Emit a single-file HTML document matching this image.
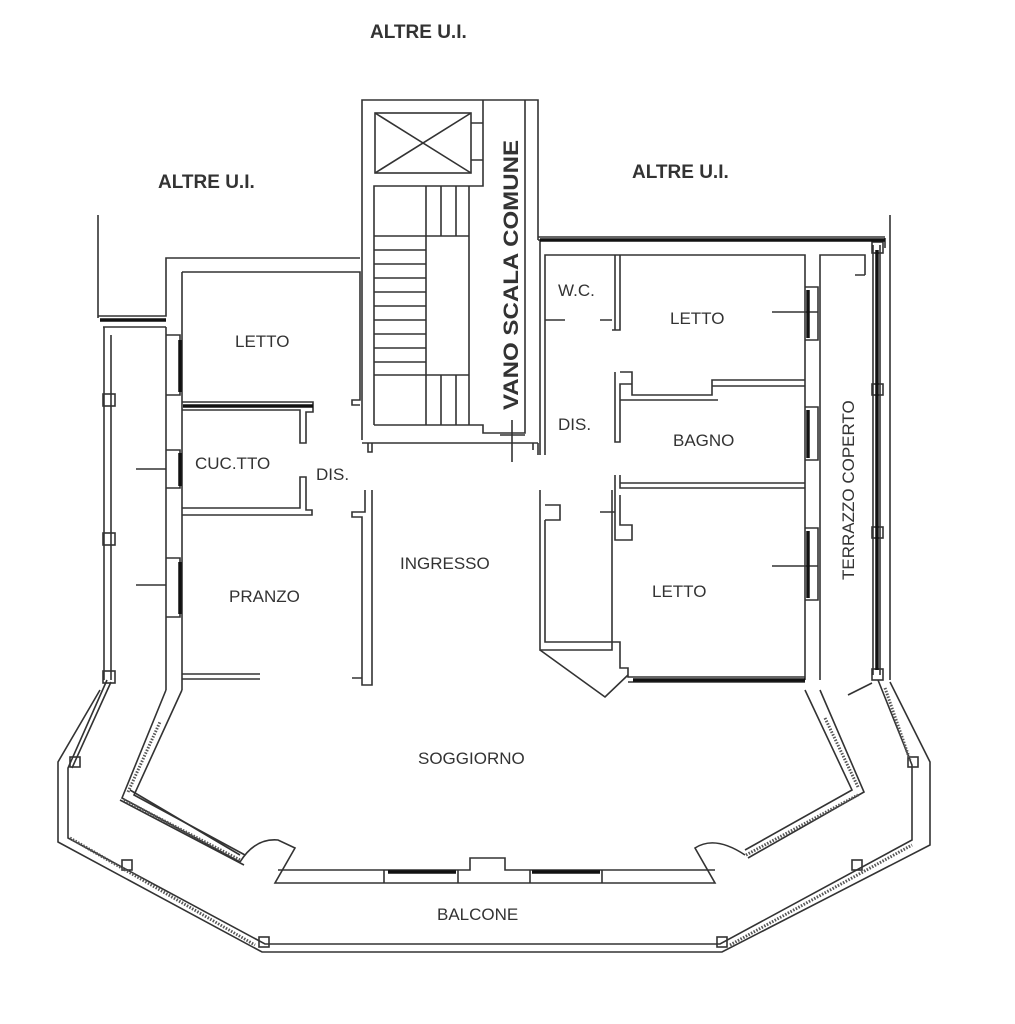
<!DOCTYPE html>
<html><head><style>
html,body{margin:0;padding:0;background:#fff;}
svg{display:block}
text{font-family:"Liberation Sans",sans-serif;fill:#333;}
</style></head><body>
<svg width="1015" height="1024" viewBox="0 0 1015 1024" xmlns="http://www.w3.org/2000/svg">
<g fill="none" stroke="#333" stroke-width="1.6">
<!-- stair block -->
<path d="M362,440 V100 H538 V240"/>
<path d="M374,425 V186 H483 V100"/>
<rect x="375" y="113" width="96" height="60"/>
<path d="M375,113 L471,173 M471,113 L375,173"/>
<path d="M471,123 H483 M471,160 H483"/>
<path d="M525,100 V433 H483 V425 H374"/>
<path d="M426,186 V425 M441,186 V236 M456,186 V236 M469,186 V425 M441,375 V425 M456,375 V425"/>
<path d="M374,236 H469 M374,250 H426 M374,264 H426 M374,278 H426 M374,292 H426 M374,306 H426 M374,320 H426 M374,334 H426 M374,348 H426 M374,362 H426 M374,375 H469"/>
<path d="M362,443 H538 M368,443 V452 H372 V443 M538,443 V455 M533,443 V450"/>
<path d="M512,420 V462 M500,435 H525"/>
<!-- left unit walls -->
<path d="M98,215 V318 M98,316 H166 V258 H360"/>
<path d="M103,327 H166 M182,272 H360 V400 H352 V405 H360"/>
<path d="M166,327 V690 M182,272 V690"/>
<path d="M104,327 V680 M111,335 V680"/>
<rect x="103" y="394" width="12" height="12"/><rect x="103" y="533" width="12" height="12"/><rect x="103" y="671" width="12" height="12"/>
<path d="M182,402 H313 V412 H306 V443 H300 V410 H182"/>
<path d="M182,515 H312 V510 H306 V477 H300 V508 H182"/>
<path d="M182,674 H260 M182,679 H260"/>
<path d="M372,490 V685 H362 V678 H352 M365,490 V512 H352 V517 H362 V678"/>
<path d="M166,335 H180 V395 H166 M166,450 H180 V488 H166 M166,558 H180 V617 H166"/>
<path d="M136,469 H166 M136,585 H166"/>
<!-- right unit -->
<path d="M538,240 H885 M538,237 H885"/>
<path d="M545,455 V255 H805 V680 M820,680 V255 H865 V275 M855,275 H865"/>
<path d="M540,455 V240"/>
<path d="M545,320 H565 M600,320 H612 M615,255 V330 M620,255 V330 H612"/>
<path d="M615,372 V442 H620 V384 H632 V395 H712 V380 H805 M620,372 H632 V384 M712,386 H805 M620,400 H718"/>
<path d="M615,475 V540 H632 V525 H620 V495 M620,475 V488 H805 M620,483 H805 M600,512 H615"/>
<path d="M540,490 V650 H612 V490 M545,505 H560 V520 H545 M545,520 V642 H620 V668 H628 V677 H805 M628,682 H805"/>
<path d="M540,650 L605,697 L628,675"/>
<path d="M805,287 H818 V340 H805 M805,407 H818 V460 H805 M805,528 H818 V600 H805 M772,312 H818 M772,566 H818"/>
<path d="M873,245 V675 M880,245 V675 M890,215 V680"/>
<path d="M885,238 V248"/>
<rect x="872" y="242" width="11" height="11"/><rect x="872" y="384" width="11" height="11"/><rect x="872" y="527" width="11" height="11"/><rect x="872" y="669" width="11" height="11"/>
<!-- soggiorno -->
<path d="M166,690 L122,798 L240,862"/>
<path d="M182,690 L134,795 L245,855"/>
<path d="M120,800 L244,865 M130,790 L240,855"/>
<path d="M805,690 L852,790 L745,850 M820,690 L864,792 L748,858"/>
<path d="M240,862 Q255,838 278,840 L295,848 L275,883 H715 L695,848 Q715,835 745,855"/>
<path d="M278,870 H470 V858 H505 V870 H715"/>
<path d="M384,870 V883 M458,870 V883 M530,870 V883 M602,870 V883"/>
<!-- balcony -->
<path d="M100,690 L58,762 V842 L262,952 H722 L930,845 V762 L890,682"/>
<path d="M107,680 L68,768 V838 L265,944 H720 L912,840 V765 L878,680"/>
<path d="M111,682 L72,768 M848,695 L872,683"/>
<rect x="70" y="757" width="10" height="10"/><rect x="122" y="860" width="10" height="10"/><rect x="259" y="937" width="10" height="10"/><rect x="717" y="937" width="10" height="10"/><rect x="852" y="860" width="10" height="10"/><rect x="908" y="757" width="10" height="10"/>
</g>
<g stroke="#111" stroke-width="3.5" fill="none">
<path d="M100,320 H166 M180,340 V392 M180,453 V486 M180,562 V614"/>
<path d="M540,240 H885 M877,250 V670"/>
<path d="M808,290 V338 M808,410 V458 M808,531 V598"/>
<path d="M388,872 H456 M532,872 H600"/>
<path d="M183,406 H313 M633,680 H805"/>
</g>
<g stroke="#555" stroke-width="3" stroke-dasharray="1.5 1.5" fill="none">
<path d="M128,792 L160,722 M124,800 L240,860 M746,855 L858,795 M858,787 L825,718"/>
<path d="M70,838 L255,945 M730,945 L912,845 M885,688 L910,760"/>
</g>
<text x="370" y="38" font-size="19" font-weight="bold">ALTRE U.I.</text>
<text x="158" y="188" font-size="19" font-weight="bold">ALTRE U.I.</text>
<text x="632" y="178" font-size="19" font-weight="bold">ALTRE U.I.</text>
<text x="0" y="0" font-size="21" font-weight="bold" textLength="270" lengthAdjust="spacingAndGlyphs" transform="translate(518,410) rotate(-90)">VANO SCALA COMUNE</text>
<text x="235" y="347" font-size="17">LETTO</text>
<text x="195" y="469" font-size="17">CUC.TTO</text>
<text x="316" y="480" font-size="17">DIS.</text>
<text x="229" y="602" font-size="17">PRANZO</text>
<text x="400" y="569" font-size="17">INGRESSO</text>
<text x="558" y="296" font-size="17">W.C.</text>
<text x="670" y="324" font-size="17">LETTO</text>
<text x="558" y="430" font-size="17">DIS.</text>
<text x="673" y="446" font-size="17">BAGNO</text>
<text x="652" y="597" font-size="17">LETTO</text>
<text x="0" y="0" font-size="17" transform="translate(854,580) rotate(-90)">TERRAZZO COPERTO</text>
<text x="418" y="764" font-size="17">SOGGIORNO</text>
<text x="437" y="920" font-size="17">BALCONE</text>
</svg>
</body></html>
